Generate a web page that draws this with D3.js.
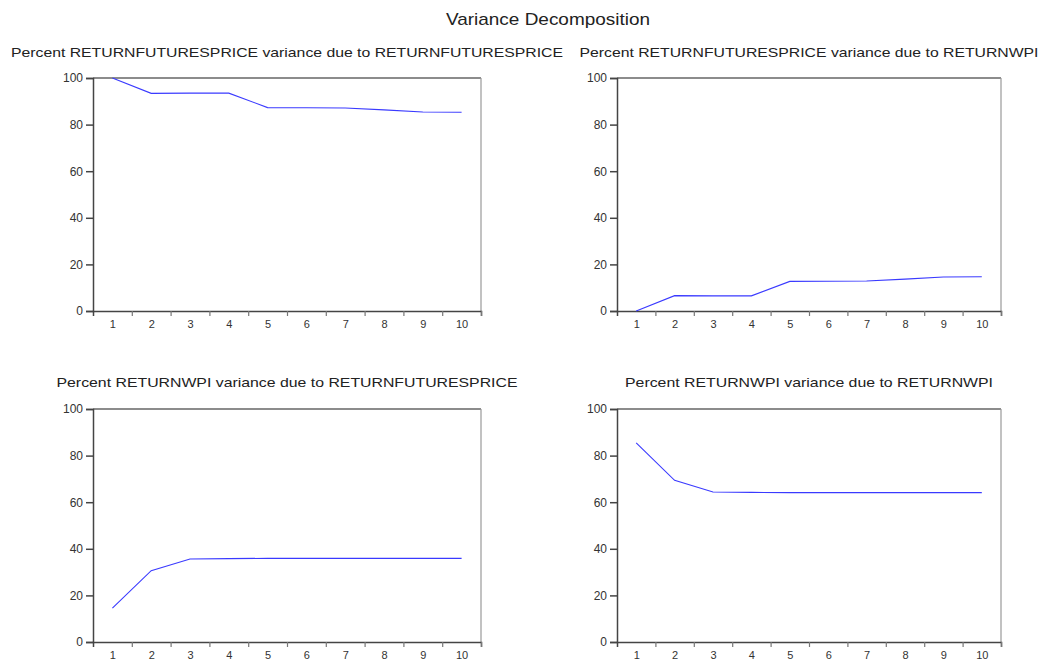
<!DOCTYPE html>
<html>
<head>
<meta charset="utf-8">
<script src="https://cdn.jsdelivr.net/npm/d3@7"></script>
<style>
  body { margin: 0; background: #fff; }
  text { font-family: "Liberation Sans", Arial, sans-serif; }
</style>
</head>
<body>
<script>
var width = 1045
var height = 662

// data
var periods = [1, 2, 3, 4, 5, 6, 7, 8, 9, 10]
var yTicks = [0, 20, 40, 60, 80, 100]
var titles = [
  'Percent RETURNFUTURESPRICE variance due to RETURNFUTURESPRICE',
  'Percent RETURNFUTURESPRICE variance due to RETURNWPI',
  'Percent RETURNWPI variance due to RETURNFUTURESPRICE',
  'Percent RETURNWPI variance due to RETURNWPI'
]
var futFromFut = [100, 93.4, 93.5, 93.5, 87.3, 87.2, 87.1, 86.3, 85.4, 85.3]
var futFromWpi = [0, 6.6, 6.5, 6.5, 12.7, 12.8, 12.9, 13.7, 14.6, 14.7]
var wpiFromFut = [14.5, 30.6, 35.6, 35.8, 35.9, 35.9, 35.9, 35.9, 35.9, 35.9]
var wpiFromWpi = [85.5, 69.4, 64.4, 64.2, 64.1, 64.1, 64.1, 64.1, 64.1, 64.1]
var series = [futFromFut, futFromWpi, wpiFromFut, wpiFromWpi]

// panel boxes
var panels = [
  { left: 93, top: 78, right: 481, bottom: 311, titleY: 57, titleW: 552 },
  { left: 617, top: 78, right: 1001, bottom: 311, titleY: 57, titleW: 459 },
  { left: 93, top: 409, right: 481, bottom: 642, titleY: 387, titleW: 461 },
  { left: 617, top: 409, right: 1001, bottom: 642, titleY: 387, titleW: 368 }
]

var svg = d3.select('body').append('svg').attr('width', width).attr('height', height)

svg.append('text').text('Variance Decomposition')
  .attr('x', 548).attr('y', 25).attr('text-anchor', 'middle')
  .attr('font-size', 17).attr('fill', '#222')
  .attr('textLength', 204).attr('lengthAdjust', 'spacingAndGlyphs')

panels.forEach((p, i) => {
  var g = svg.append('g')
  var x = d3.scaleLinear().domain([0.5, 10.5]).range([p.left, p.right])
  var y = d3.scaleLinear().domain([0, 100]).range([p.bottom, p.top])

  g.append('text').text(titles[i])
    .attr('x', (p.left + p.right) / 2).attr('y', p.titleY)
    .attr('text-anchor', 'middle').attr('font-size', 13).attr('fill', '#222')
    .attr('textLength', p.titleW).attr('lengthAdjust', 'spacingAndGlyphs')

  // frame top and right
  g.append('line').attr('x1', p.left).attr('x2', p.right).attr('y1', p.top).attr('y2', p.top)
    .attr('stroke', '#666').attr('stroke-width', 1.5)
  g.append('line').attr('x1', p.right).attr('x2', p.right).attr('y1', p.top).attr('y2', p.bottom)
    .attr('stroke', '#999').attr('stroke-width', 1.2)

  var yAxis = d3.axisLeft(y).tickValues(yTicks).tickSize(7).tickPadding(3)
  var ya = g.append('g').attr('transform', `translate(${p.left},0)`).call(yAxis)
  ya.selectAll('path, line').attr('stroke', '#444').attr('stroke-width', 1.5)
  ya.selectAll('text').attr('font-size', 12).attr('fill', '#333')
    .style('font-family', '"Liberation Sans", Arial, sans-serif')

  var xTickAxis = d3.axisBottom(x).tickValues(d3.range(1.5, 10.6, 1)).tickSize(5).tickFormat('')
  var xa = g.append('g').attr('transform', `translate(0,${p.bottom})`).call(xTickAxis)
  xa.selectAll('path').attr('stroke', '#444').attr('stroke-width', 1.5)
  xa.selectAll('line').attr('stroke', '#777').attr('stroke-width', 1.2)

  var xLabelAxis = d3.axisBottom(x).tickValues(periods).tickSize(0).tickPadding(9)
  var xl = g.append('g').attr('transform', `translate(0,${p.bottom})`).call(xLabelAxis)
  xl.select('.domain').remove()
  xl.selectAll('text').attr('font-size', 11).attr('fill', '#333')
    .style('font-family', '"Liberation Sans", Arial, sans-serif')

  var line = d3.line().x((d, k) => x(periods[k])).y(d => y(d))
  g.append('path').datum(series[i]).attr('d', line)
    .attr('fill', 'none').attr('stroke', '#3a3aff').attr('stroke-width', 1.1)
})
</script>
</body>
</html>
